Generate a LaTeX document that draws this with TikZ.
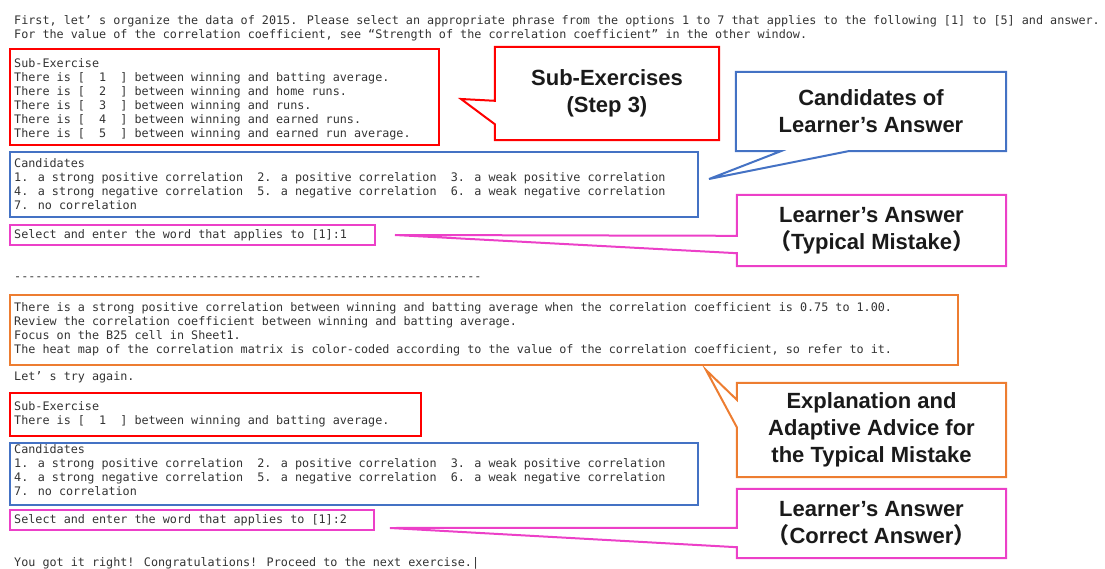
\documentclass[tikz,border=0pt]{standalone}
\usepackage{fontspec}
\setmainfont{Liberation Sans}
\newfontfamily\monof{DejaVu Sans Mono}
\newfontfamily\cjk{Noto Sans CJK JP}
\definecolor{cred}{RGB}{255,0,0}
\definecolor{cblue}{RGB}{68,114,196}
\definecolor{cpink}{RGB}{236,64,200}
\definecolor{corange}{RGB}{237,125,49}
\definecolor{ctxt}{RGB}{26,26,26}
\tikzset{
  mono/.style={font=\monof\fontsize{11.76}{14}\selectfont, text=black!80, anchor=base west, inner sep=0pt},
  box/.style={draw, line width=2pt, anchor=north west, inner sep=0pt},
  ctext/.style={font=\bfseries\fontsize{22}{27}\selectfont, align=center, text=ctxt, inner sep=0pt},
  callout/.style={line width=2pt, line join=miter},
}
\begin{document}
\begin{tikzpicture}[x=1pt,y=-1pt]
\useasboundingbox (0,0) rectangle (1105,569);

% top instructions
\node[mono] (l1) at (14,25) {First, let’ s organize the data of 2015. Please select an appropriate phrase from the options 1 to 7 that applies to the following [1] to [5] and answer.};
\node[mono] (l2) at (14,39) {For the value of the correlation coefficient, see “Strength of the correlation coefficient” in the other window.};

% sub-exercise box 1
\node[box, draw=cred, minimum width=429pt, minimum height=96pt] (sub1) at (9,48) {};
\node[mono] (s1) at (14,67.5) {Sub-Exercise};
\node[mono] (s2) at (14,81.5) {There is [~~1~~] between winning and batting average.};
\node[mono] (s3) at (14,95.5) {There is [~~2~~] between winning and home runs.};
\node[mono] (s4) at (14,109.5) {There is [~~3~~] between winning and runs.};
\node[mono] (s5) at (14,123.5) {There is [~~4~~] between winning and earned runs.};
\node[mono] (s6) at (14,137.5) {There is [~~5~~] between winning and earned run average.};

% candidates box 1
\node[box, draw=cblue, minimum width=688pt, minimum height=65pt] (cand1) at (9,151) {};
\node[mono] (c1) at (14,168) {Candidates};
\node[mono] (c2) at (14,182) {1. a strong positive correlation~~2. a positive correlation~~3. a weak positive correlation};
\node[mono] (c3) at (14,196) {4. a strong negative correlation~~5. a negative correlation~~6. a weak negative correlation};
\node[mono] (c4) at (14,210) {7. no correlation};

% answer box 1
\node[box, draw=cpink, minimum width=365pt, minimum height=20pt] (ans1) at (9,224) {};
\node[mono] (a1) at (14,238.5) {Select and enter the word that applies to [1]:1};

% dashes
\node[mono] (dash) at (14,280) {------------------------------------------------------------------};

% explanation box
\node[box, draw=corange, minimum width=948pt, minimum height=70pt] (expl) at (9,294) {};
\node[mono] (e1) at (14,311) {There is a strong positive correlation between winning and batting average when the correlation coefficient is 0.75 to 1.00.};
\node[mono] (e2) at (14,325) {Review the correlation coefficient between winning and batting average.};
\node[mono] (e3) at (14,339) {Focus on the B25 cell in Sheet1.};
\node[mono] (e4) at (14,353) {The heat map of the correlation matrix is color-coded according to the value of the correlation coefficient, so refer to it.};

\node[mono] (again) at (14,380) {Let’ s try again.};

% sub-exercise box 2
\node[box, draw=cred, minimum width=411pt, minimum height=43pt] (sub2) at (9,392) {};
\node[mono] (t1) at (14,410) {Sub-Exercise};
\node[mono] (t2) at (14,424) {There is [~~1~~] between winning and batting average.};

% candidates box 2
\node[box, draw=cblue, minimum width=688pt, minimum height=62pt] (cand2) at (9,442) {};
\node[mono] (d1) at (14,453) {Candidates};
\node[mono] (d2) at (14,467) {1. a strong positive correlation~~2. a positive correlation~~3. a weak positive correlation};
\node[mono] (d3) at (14,481) {4. a strong negative correlation~~5. a negative correlation~~6. a weak negative correlation};
\node[mono] (d4) at (14,495) {7. no correlation};

% answer box 2
\node[box, draw=cpink, minimum width=364pt, minimum height=20pt] (ans2) at (9,509) {};
\node[mono] (a2) at (14,523.5) {Select and enter the word that applies to [1]:2};

\node[mono] (done) at (14,566) {You got it right! Congratulations! Proceed to the next exercise.|};

% callouts
\node[ctext, minimum width=224pt, minimum height=93pt] (cs) at (607,93.5) {Sub-Exercises\\(Step 3)};
\coordinate (tipS) at (461,99);
\draw[callout, draw=cred] (cs.north west) -- (cs.north east) -- (cs.south east) -- (cs.south west)
  -- ([yshift=16pt]cs.south west) -- (tipS) -- ([yshift=-54pt]cs.north west) -- cycle;

\node[ctext, minimum width=270pt, minimum height=79pt] (cc) at (871,111.5) {Candidates of\\Learner’s Answer};
\coordinate (tipC) at (709,179);
\draw[callout, draw=cblue] (cc.north west) -- (cc.north east) -- (cc.south east)
  -- ([xshift=-158pt]cc.south east) -- (tipC) -- ([xshift=45pt]cc.south west) -- (cc.south west) -- cycle;

\node[ctext, minimum width=269pt, minimum height=71pt] (cp1) at (871.5,230.5) {Learner’s Answer\\{\cjk （}Typical Mistake{\cjk ）}};
\coordinate (tipP1) at ([xshift=19pt]ans1.east);
\draw[callout, draw=cpink] (cp1.north west) -- (cp1.north east) -- (cp1.south east) -- (cp1.south west)
  -- ([yshift=13pt]cp1.south west) -- (tipP1) -- ([yshift=-41pt]cp1.north west) -- cycle;

\node[ctext, minimum width=269pt, minimum height=94pt] (ce) at (871.5,430) {Explanation and\\Adaptive Advice for\\the Typical Mistake};
\coordinate (tipE) at (706,370);
\draw[callout, draw=corange] (ce.north west) -- (ce.north east) -- (ce.south east) -- (ce.south west)
  -- ([yshift=50pt]ce.south west) -- (tipE) -- ([yshift=-17pt]ce.north west) -- cycle;

\node[ctext, minimum width=269pt, minimum height=69pt] (cp2) at (871.5,523.5) {Learner’s Answer\\{\cjk （}Correct Answer{\cjk ）}};
\coordinate (tipP2) at (390,528);
\draw[callout, draw=cpink] (cp2.north west) -- (cp2.north east) -- (cp2.south east) -- (cp2.south west)
  -- ([yshift=11pt]cp2.south west) -- (tipP2) -- ([yshift=-39pt]cp2.north west) -- cycle;
\end{tikzpicture}
\end{document}
